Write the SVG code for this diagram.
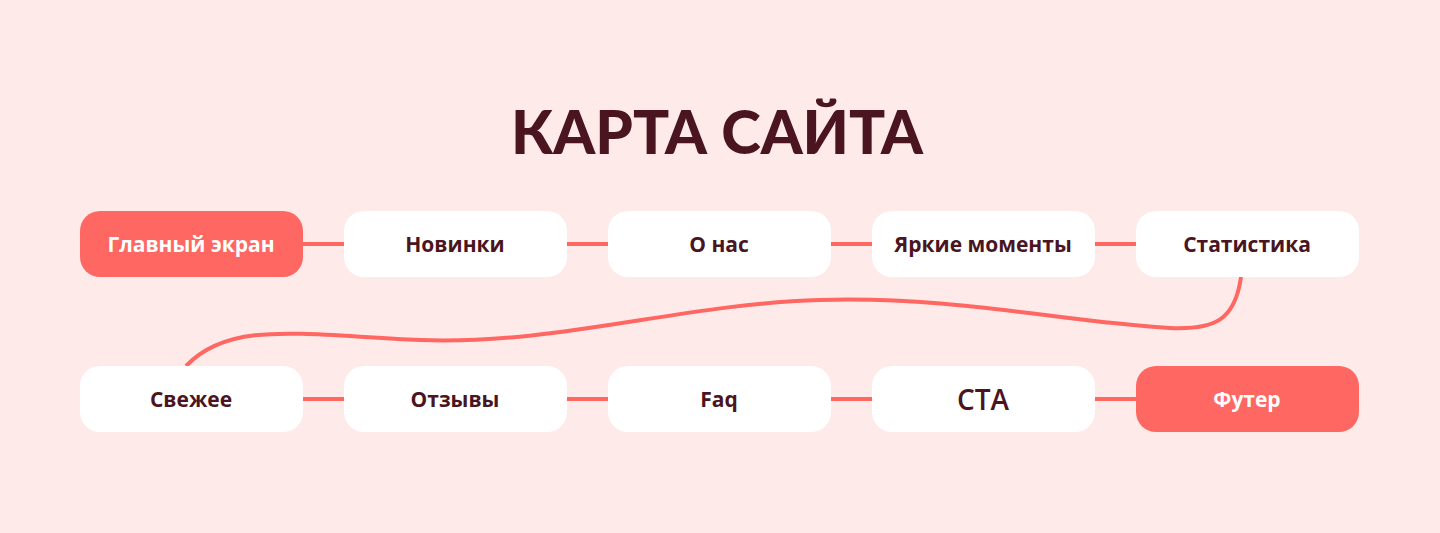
<svg xmlns="http://www.w3.org/2000/svg" width="1440" height="533" viewBox="0 0 1440 533">
<style>
.n{fill:#fff}.a{fill:#FF6762}
.t{font-family:"Open Sans",sans-serif;font-weight:700;font-size:21px;fill:#4A1520;text-anchor:middle;dominant-baseline:central}
.w{fill:#fff}
.c{stroke:#FF6762;stroke-width:4;fill:none}
</style>
<rect width="1440" height="533" fill="#FFEAEA"/>
<text x="717" y="154" font-family="Lato,sans-serif" font-weight="900" font-size="60" fill="#4A1520" text-anchor="middle">КАРТА САЙТА</text>
<g id="connectors">
<path class="c" d="M303,244H344M567,244H608M831,244H872M1095,244H1136M303,399H344M567,399H608M831,399H872M1095,399H1136"/>
<path class="c" d="M1241,277 C1235,320 1215,330 1170,328 C1060,322 960,296 820,300 C680,304 560,345 420,340 C300,335 230,320 186,366"/>
</g>
<g id="n1"><rect class="a" x="80" y="211" width="223" height="66" rx="20"/><text class="t w" x="191" y="244">Главный экран</text></g>
<g id="n2"><rect class="n" x="344" y="211" width="223" height="66" rx="20"/><text class="t" x="455" y="244">Новинки</text></g>
<g id="n3"><rect class="n" x="608" y="211" width="223" height="66" rx="20"/><text class="t" x="719" y="244">О нас</text></g>
<g id="n4"><rect class="n" x="872" y="211" width="223" height="66" rx="20"/><text class="t" x="983" y="244">Яркие моменты</text></g>
<g id="n5"><rect class="n" x="1136" y="211" width="223" height="66" rx="20"/><text class="t" x="1247" y="244">Статистика</text></g>
<g id="n6"><rect class="n" x="80" y="366" width="223" height="66" rx="20"/><text class="t" x="191" y="399">Свежее</text></g>
<g id="n7"><rect class="n" x="344" y="366" width="223" height="66" rx="20"/><text class="t" x="455" y="399">Отзывы</text></g>
<g id="n8"><rect class="n" x="608" y="366" width="223" height="66" rx="20"/><text class="t" x="719" y="399">Faq</text></g>
<g id="n9"><rect class="n" x="872" y="366" width="223" height="66" rx="20"/><text class="t" x="983" y="399" style="font-size:28px;font-weight:600">CTA</text></g>
<g id="n10"><rect class="a" x="1136" y="366" width="223" height="66" rx="20"/><text class="t w" x="1247" y="399">Футер</text></g>
</svg>
